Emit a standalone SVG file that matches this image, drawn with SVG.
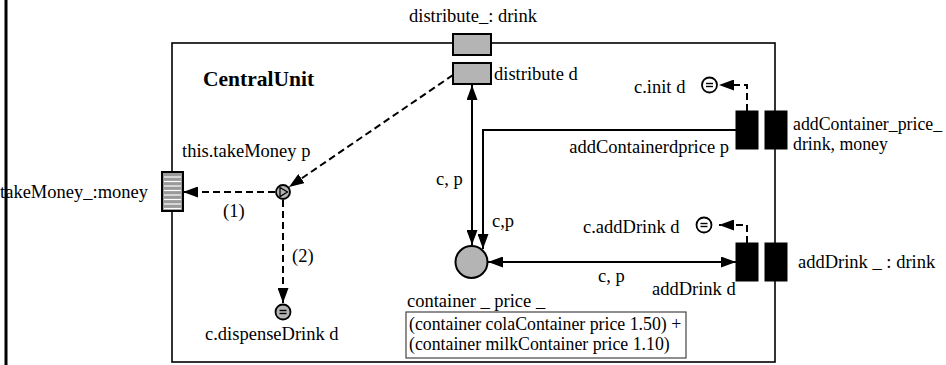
<svg xmlns="http://www.w3.org/2000/svg" width="946" height="365" viewBox="0 0 946 365">
  <style>
    text { font-family: 'Liberation Serif', 'Times New Roman', 'DejaVu Serif', serif; font-size: 18.5px; fill: #000; }
    .title { font-weight: bold; font-size: 21.5px; }
    .small { font-size: 17.8px; }
    .port { fill: #b4b4b4; stroke: #000; stroke-width: 2; }
    .blk { fill: #000; stroke: #000; stroke-width: 1; }
    .solid { fill: none; stroke: #000; stroke-width: 2; }
    .dash { fill: none; stroke: #000; stroke-width: 2; stroke-dasharray: 7 4; }
    .icon { stroke: #000; stroke-width: 1.8; }
  </style>
  <defs>
    <marker id="arrow" viewBox="0 0 15 11" refX="15" refY="5.5" markerWidth="15" markerHeight="11" markerUnits="userSpaceOnUse" orient="auto-start-reverse">
      <path d="M0,0 L15,5.5 L0,11 Z" fill="#000"/>
    </marker>
  </defs>

  <rect width="946" height="365" fill="#fff"/>

  <g font-family="Liberation Serif, DejaVu Serif, serif">
  <!-- CentralUnit component -->
  <g id="central-unit">
    <rect x="172" y="43" width="603" height="319" fill="none" stroke="#000" stroke-width="1.6"/>
    <text class="title" x="203" y="86">CentralUnit</text>
  </g>

  <!-- connectors -->
  <g id="connectors">
    <line class="solid" x1="472" y1="85" x2="472" y2="245" marker-start="url(#arrow)" marker-end="url(#arrow)"/>
    <path class="solid" d="M736,130 H483 V249" marker-end="url(#arrow)"/>
    <line class="solid" x1="488" y1="262" x2="736" y2="262" marker-start="url(#arrow)" marker-end="url(#arrow)"/>
    <path class="dash" d="M453,75 L289,187" marker-end="url(#arrow)"/>
    <path class="dash" d="M275,192 H183" marker-end="url(#arrow)"/>
    <path class="dash" d="M283,200 V303" marker-end="url(#arrow)"/>
    <path class="dash" d="M747,111 V85 H719" marker-end="url(#arrow)"/>
    <path class="dash" d="M747,243 V225 H719" marker-end="url(#arrow)"/>
  </g>

  <!-- distribute port (outer) -->
  <g id="port-distribute-outer">
    <rect class="port" x="453" y="34" width="38" height="21"/>
    <text x="409" y="22">distribute_: drink</text>
  </g>

  <!-- distribute port (inner) -->
  <g id="port-distribute-inner">
    <rect class="port" x="453" y="63" width="38" height="21"/>
    <text x="494" y="80">distribute d</text>
  </g>

  <!-- takeMoney port -->
  <g id="port-takemoney">
    <text x="148" y="198" text-anchor="end">takeMoney_:money</text>
    <rect x="162" y="172" width="21" height="39" fill="#9a9a9a" stroke="#000" stroke-width="2"/>
    <g stroke="#fff" stroke-width="1.2">
      <line x1="164" y1="177" x2="181" y2="177"/>
      <line x1="164" y1="181.5" x2="181" y2="181.5"/>
      <line x1="164" y1="186" x2="181" y2="186"/>
      <line x1="164" y1="190.5" x2="181" y2="190.5"/>
      <line x1="164" y1="195" x2="181" y2="195"/>
      <line x1="164" y1="199.5" x2="181" y2="199.5"/>
      <line x1="164" y1="204" x2="181" y2="204"/>
      <line x1="164" y1="208.5" x2="181" y2="208.5"/>
    </g>
  </g>

  <!-- takeMoney emit action -->
  <g id="action-takemoney">
    <circle class="icon" cx="283" cy="192" r="7" fill="#b4b4b4"/>
    <path d="M280,187.5 L287.5,192 L280,196.5 Z" fill="none" stroke="#000" stroke-width="1.3"/>
    <text x="182" y="157">this.takeMoney p</text>
    <text x="223" y="217">(1)</text>
    <text x="292" y="262">(2)</text>
  </g>

  <!-- dispenseDrink call -->
  <g id="call-dispense">
    <circle class="icon" cx="283" cy="312" r="7.5" fill="#b4b4b4"/>
    <line x1="279.5" y1="310.5" x2="286.5" y2="310.5" stroke="#000" stroke-width="1.4"/>
    <line x1="279.5" y1="313.5" x2="286.5" y2="313.5" stroke="#000" stroke-width="1.4"/>
    <text x="205" y="340">c.dispenseDrink d</text>
  </g>

  <!-- container/price state -->
  <g id="state-container">
    <circle cx="471.5" cy="262" r="16" fill="#b4b4b4" stroke="#000" stroke-width="2"/>
    <text x="436" y="185">c, p</text>
    <text x="492" y="227">c,p</text>
    <text x="598" y="282">c, p</text>
    <text x="407" y="307">container _ price _</text>
    <rect x="406" y="312" width="280" height="46" fill="#fff" stroke="#444" stroke-width="1.2"/>
    <text class="small" x="409" y="330">(container colaContainer price 1.50) +</text>
    <text class="small" x="409" y="350">(container milkContainer price 1.10)</text>
  </g>

  <!-- init call -->
  <g id="call-init">
    <circle cx="709.5" cy="85" r="7.5" fill="#fff" stroke="#000" stroke-width="1.8"/>
    <line x1="706" y1="83.5" x2="713" y2="83.5" stroke="#000" stroke-width="1.4"/>
    <line x1="706" y1="86.5" x2="713" y2="86.5" stroke="#000" stroke-width="1.4"/>
    <text x="634" y="93">c.init d</text>
  </g>

  <!-- addContainer ports -->
  <g id="port-addcontainer">
    <rect class="blk" x="736" y="111" width="22" height="38"/>
    <rect class="blk" x="765" y="111" width="22" height="38"/>
    <text x="729" y="153" text-anchor="end">addContainerdprice p</text>
    <text class="small" x="793" y="130">addContainer_price_</text>
    <text class="small" x="793" y="150">drink, money</text>
  </g>

  <!-- addDrink call -->
  <g id="call-adddrink">
    <circle cx="704" cy="225" r="7.5" fill="#fff" stroke="#000" stroke-width="1.8"/>
    <line x1="700.5" y1="223.5" x2="707.5" y2="223.5" stroke="#000" stroke-width="1.4"/>
    <line x1="700.5" y1="226.5" x2="707.5" y2="226.5" stroke="#000" stroke-width="1.4"/>
    <text x="583" y="233">c.addDrink d</text>
  </g>

  <!-- addDrink ports -->
  <g id="port-adddrink">
    <rect class="blk" x="736" y="243" width="22" height="38"/>
    <rect class="blk" x="765" y="243" width="22" height="38"/>
    <text x="652" y="295">addDrink d</text>
    <text x="798" y="268">addDrink _ : drink</text>
  </g>
  </g>

  <!-- outer frame edge -->
  <line x1="6" y1="0" x2="6" y2="365" stroke="#000" stroke-width="3"/>
</svg>
